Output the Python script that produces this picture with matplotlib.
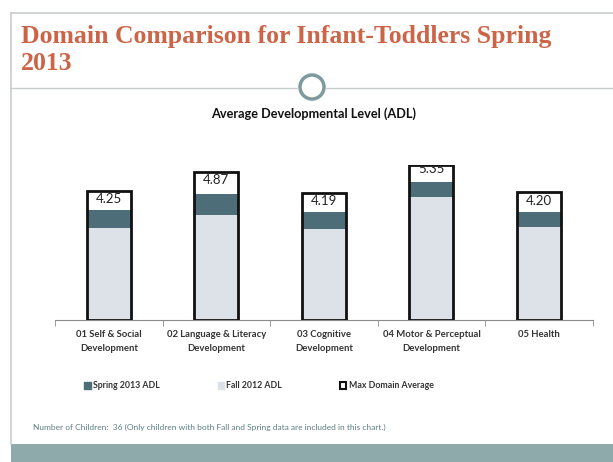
import numpy as np
import matplotlib
matplotlib.use("Agg")
import matplotlib.pyplot as plt
from matplotlib.patches import Patch, Rectangle, Circle
from matplotlib.lines import Line2D

W, H = 613, 462

categories = ["01 Self & Social\nDevelopment", "02 Language & Literacy\nDevelopment",
              "03 Cognitive\nDevelopment", "04 Motor & Perceptual\nDevelopment", "05 Health"]
fall_2012 = [3.03, 3.44, 2.98, 4.06, 3.07]
spring_2013 = [3.62, 4.13, 3.54, 4.55, 3.56]
max_domain = [4.25, 4.87, 4.19, 5.35, 4.20]
YMAX = 5.1

DARK = "#4d6d78"
LIGHT = "#dde1e8"
TITLE_C = "#cc6448"
NOTE_C = "#5b7d84"

plt.rcParams["font.family"] = ["Lato", "DejaVu Sans"]


def fx(px):
    return px / W


def fy(py):
    return 1 - py / H


fig = plt.figure(figsize=(W / 100, H / 100), dpi=100)

# slide decoration
fig.add_artist(Line2D([fx(11), fx(11)], [fy(13), fy(444)], color="#c8cccc", lw=1.2))
fig.add_artist(Line2D([fx(11), 1], [fy(13), fy(13)], color="#c8cccc", lw=1.2))
fig.add_artist(Rectangle((fx(11), 0), 1, fy(444), color="#8faaab", lw=0))
fig.add_artist(Line2D([fx(11), fx(298)], [fy(88), fy(88)], color="#c8cccc", lw=1))
fig.add_artist(Line2D([fx(326), 1], [fy(88), fy(88)], color="#c8cccc", lw=1))
circ = Circle((312, H - 87), 12, transform=None, facecolor="white",
              edgecolor="#7e9a9e", lw=2.5)
fig.add_artist(circ)

fig.text(fx(21), fy(37), "Domain Comparison for Infant-Toddlers Spring", color=TITLE_C,
         fontsize=18.5, fontweight="bold", family="Liberation Serif", va="center", ha="left")
fig.text(fx(21), fy(64), "2013", color=TITLE_C,
         fontsize=18.5, fontweight="bold", family="Liberation Serif", va="center", ha="left")

fig.text(fx(314), fy(114), "Average Developmental Level (ADL)", fontsize=9.2,
         fontweight="bold", ha="center", va="center", color="#111111")

ax = fig.add_axes([fx(55), fy(320), fx(592.7) - fx(55), (320 - 165) / H])
x = np.arange(len(categories))
bw = 0.41
shown = np.minimum(max_domain, YMAX)
ax.bar(x, shown, bw, color="white", zorder=1)
ax.bar(x, spring_2013, bw, color=DARK, zorder=2)
ax.bar(x, fall_2012, bw, color=LIGHT, zorder=3)
ax.bar(x, shown, bw, fill=False, edgecolor="#111111", lw=2, zorder=4)
for xi, v in zip(x, max_domain):
    ty = v - 0.27 if v < YMAX else YMAX - 0.14
    ax.text(xi, ty, f"{v:.2f}", ha="center", va="center", fontsize=9.5,
            color="#222222", zorder=5, clip_on=True)

ax.set_xlim(-0.5, len(categories) - 0.5)
ax.set_ylim(0, YMAX)
ax.set_yticks([])
for s in ["top", "right", "left"]:
    ax.spines[s].set_visible(False)
ax.spines["bottom"].set_color("#8a8a8a")
ax.set_xticks(x)
ax.set_xticklabels(categories, fontsize=6.8, fontweight="bold", color="#333333", linespacing=1.7)
ax.tick_params(axis="x", which="major", length=0, pad=7)
ax.set_xticks(np.arange(-0.5, len(categories)), minor=True)
ax.tick_params(axis="x", which="minor", length=4, color="#8a8a8a")

handles = [Patch(facecolor=DARK, edgecolor=DARK),
           Patch(facecolor=LIGHT, edgecolor=LIGHT),
           Patch(facecolor="white", edgecolor="#111111", lw=1.5)]
labels = ["Spring 2013 ADL", "Fall 2012 ADL", "Max Domain Average"]
leg = fig.legend(handles, labels, loc="center", bbox_to_anchor=(fx(259), fy(386)), ncol=3,
                 frameon=False, handlelength=0.7, handleheight=0.7, handletextpad=0.3,
                 columnspacing=6.6, prop={"size": 6.3, "weight": "bold"})
for t in leg.get_texts():
    t.set_color("#333333")

fig.text(fx(33), fy(427), "Number of Children:  36 (Only children with both Fall and Spring data are included in this chart.)",
         fontsize=6.0, color=NOTE_C, ha="left", va="center")

fig.savefig("out.png", dpi=100)
